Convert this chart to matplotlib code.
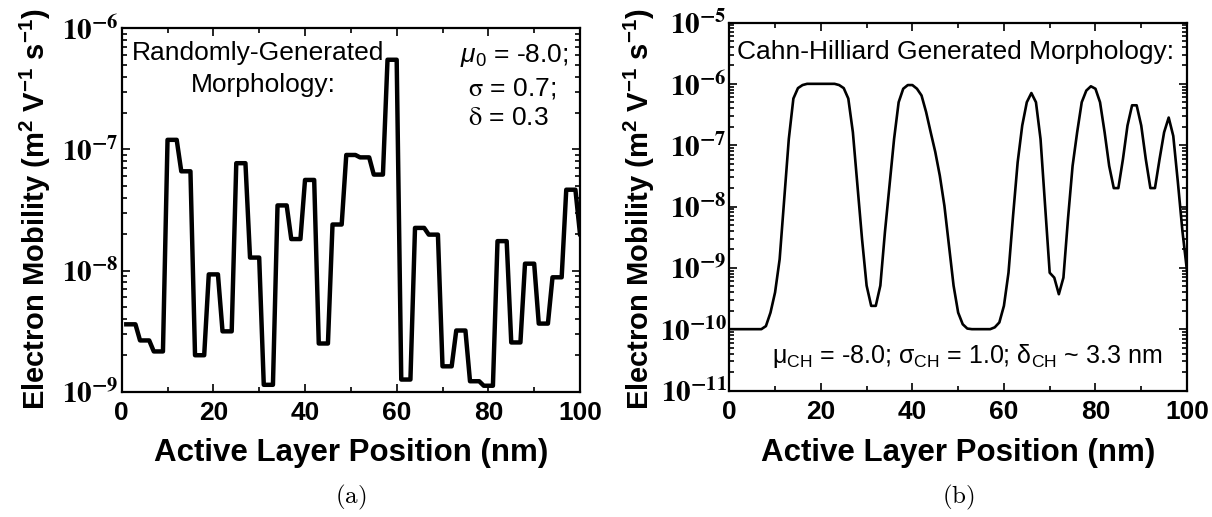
import numpy as np
import matplotlib
matplotlib.use("Agg")
import matplotlib.pyplot as plt
from matplotlib.ticker import LogLocator, FuncFormatter, MultipleLocator, NullFormatter

plt.rcParams["font.family"] = ["Liberation Sans", "DejaVu Sans"]
plt.rcParams["mathtext.fontset"] = "stix"
plt.rcParams["mathtext.rm"] = "Liberation Sans"
plt.rcParams["mathtext.it"] = "Liberation Sans:italic"
plt.rcParams["mathtext.bf"] = "Liberation Sans:bold"
plt.rcParams["mathtext.sf"] = "Liberation Sans"

# (a) randomly generated morphology, one value per nm (x = 1..100)
position_a = np.arange(1, 101)
mobility_a = [
    3.6e-9, 3.6e-9, 3.6e-9,
    2.65e-9, 2.65e-9, 2.65e-9,
    2.15e-9, 2.15e-9, 2.15e-9,
    1.2e-7, 1.2e-7, 1.2e-7,
    6.6e-8, 6.6e-8, 6.6e-8,
    2.0e-9, 2.0e-9, 2.0e-9,
    9.3e-9, 9.3e-9, 9.3e-9,
    3.15e-9, 3.15e-9, 3.15e-9,
    7.7e-8, 7.7e-8, 7.7e-8,
    1.28e-8, 1.28e-8, 1.28e-8,
    1.14e-9, 1.14e-9, 1.14e-9,
    3.45e-8, 3.45e-8, 3.45e-8,
    1.82e-8, 1.82e-8, 1.82e-8,
    5.6e-8, 5.6e-8, 5.6e-8,
    2.5e-9, 2.5e-9, 2.5e-9,
    2.4e-8, 2.4e-8, 2.4e-8,
    9.0e-8, 9.0e-8, 9.0e-8,
    8.6e-8, 8.6e-8, 8.6e-8,
    6.2e-8, 6.2e-8, 6.2e-8,
    5.5e-7, 5.5e-7, 5.5e-7,
    1.26e-9, 1.26e-9, 1.26e-9,
    2.25e-8, 2.25e-8, 2.25e-8,
    1.98e-8, 1.98e-8, 1.98e-8,
    1.62e-9, 1.62e-9, 1.62e-9,
    3.2e-9, 3.2e-9, 3.2e-9,
    1.22e-9, 1.22e-9, 1.22e-9,
    1.12e-9, 1.12e-9, 1.12e-9,
    1.75e-8, 1.75e-8, 1.75e-8,
    2.55e-9, 2.55e-9, 2.55e-9,
    1.14e-8, 1.14e-8, 1.14e-8,
    3.65e-9, 3.65e-9, 3.65e-9,
    8.8e-9, 8.8e-9, 8.8e-9,
    4.65e-8, 4.65e-8, 4.65e-8,
    2.0e-8,
]

# (b) Cahn-Hilliard morphology, log10 mobility per nm (x = 0..100)
position_b = np.arange(0, 101)
log_mobility_b = [
    -10.0, -10.0, -10.0, -10.0, -10.0, -10.0, -10.0, -10.0, -9.95, -9.73,
    -9.40, -8.86, -7.88, -6.90, -6.24, -6.07, -6.02, -6.0, -6.0, -6.0,
    -6.0, -6.0, -6.0, -6.0, -6.02, -6.07, -6.24, -6.79, -7.66, -8.53,
    -9.29, -9.62, -9.62, -9.29, -8.42, -7.66, -6.90, -6.30, -6.08, -6.02,
    -6.02, -6.08, -6.19, -6.46, -6.79, -7.11, -7.50, -7.99, -8.64, -9.29,
    -9.73, -9.92, -9.99, -10.0, -10.0, -10.0, -10.0, -10.0, -9.97, -9.89,
    -9.62, -9.08, -8.15, -7.28, -6.68, -6.30, -6.15, -6.30, -6.90, -7.99,
    -9.08, -9.16, -9.43, -9.16, -8.20, -7.34, -6.79, -6.30, -6.11, -6.04,
    -6.08, -6.30, -6.79, -7.34, -7.70, -7.70, -7.23, -6.68, -6.35, -6.35,
    -6.68, -7.23, -7.70, -7.70, -7.23, -6.79, -6.55, -6.85, -7.60, -8.40,
    -9.05,
]

xticks = [0, 20, 40, 60, 80, 100]
ylabel = r"Electron Mobility (m$^{\mathbf{2}}$ V$^{\mathbf{-1}}$ s$^{\mathbf{-1}}$)"
xlabel = "Active Layer Position (nm)"

W, H = 1212, 517
fig = plt.figure(figsize=(W / 100, H / 100), dpi=100)


def px_axes(x0, x1, y0, y1):
    return fig.add_axes([x0 / W, 1 - y1 / H, (x1 - x0) / W, (y1 - y0) / H])


def decade_label(v, pos):
    return r"$\mathbf{10^{%d}}$" % int(round(np.log10(v)))


def style_axes(ax, ylim):
    ax.set_xlim(0, 100)
    ax.set_yscale("log")
    ax.set_ylim(*ylim)
    ax.set_xticks(xticks)
    ax.xaxis.set_minor_locator(MultipleLocator(10))
    ax.yaxis.set_major_locator(LogLocator(base=10, numticks=20))
    ax.yaxis.set_minor_locator(LogLocator(base=10, subs=np.arange(2, 10), numticks=20))
    ax.yaxis.set_major_formatter(FuncFormatter(decade_label))
    ax.yaxis.set_minor_formatter(NullFormatter())
    ax.tick_params(which="both", direction="in", top=True, right=True, width=1.2)
    ax.tick_params(which="major", length=6)
    ax.tick_params(which="minor", length=3.5)
    ax.tick_params(axis="x", pad=7, labelsize=19)
    ax.tick_params(axis="y", pad=2, labelsize=21)
    for lab in ax.get_xticklabels():
        lab.set_fontweight("bold")
    for sp in ax.spines.values():
        sp.set_linewidth(1.6)


def note(ax, x, y, s, size=19, **kw):
    ax.text(x, y, s, transform=ax.transAxes, ha="center", va="baseline",
            fontsize=size, **kw)


# ---- panel (a)
ax1 = px_axes(121.7, 580, 28.3, 391.7)
ax1.plot(position_a, mobility_a, color="black", lw=3.2)
style_axes(ax1, (1e-9, 1e-6))
note(ax1, 0.297, 0.913, "Randomly-Generated")
note(ax1, 0.31, 0.826, "Morphology:")
note(ax1, 0.856, 0.908, r"$\mu_0$ = -8.0;", math_fontfamily="custom")
note(ax1, 0.852, 0.815, r"$\mathrm{\sigma}$ = 0.7;")
note(ax1, 0.843, 0.733, r"$\mathrm{\delta}$ = 0.3")

# ---- panel (b)
ax2 = px_axes(729.3, 1187, 22.5, 390.5)
ax2.plot(position_b, 10.0 ** np.array(log_mobility_b), color="black", lw=1.9)
style_axes(ax2, (1e-11, 1e-5))
note(ax2, 0.495, 0.901, "Cahn-Hilliard Generated Morphology:")
note(ax2, 0.519, 0.074,
     r"μ$_{\mathrm{CH}}$ = -8.0; σ$_{\mathrm{CH}}$ = 1.0; δ$_{\mathrm{CH}}$ ~ 3.3 nm",
     size=18, math_fontfamily="custom")

# axis labels and panel captions
for cx, ly, cap in [(351, 35, "(a)"), (958, 639, "(b)")]:
    fig.text(cx / W, 1 - 453 / H, xlabel, ha="center", va="center",
             fontsize=22.5, fontweight="bold")
    fig.text(ly / W, 1 - 209 / H, ylabel, ha="center", va="center", rotation=90,
             fontsize=21, fontweight="bold", math_fontfamily="custom")
    fig.text(cx / W, 1 - 497 / H, r"$\mathrm{%s}$" % cap, ha="center", va="center",
             fontsize=18, math_fontfamily="cm")

fig.savefig("out.png", dpi=100)
